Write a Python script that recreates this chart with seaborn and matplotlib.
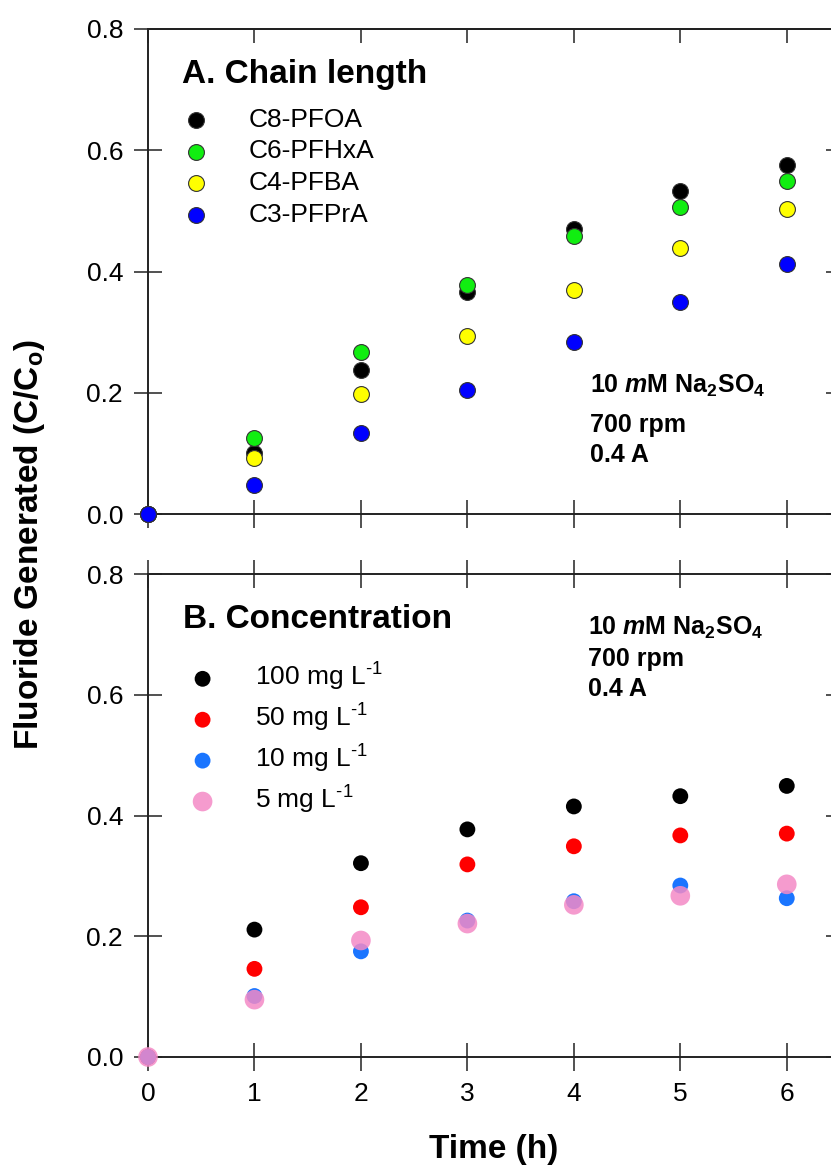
import pandas as pd
import seaborn as sns
import matplotlib.pyplot as plt

# time points (h)
time = [0, 1, 2, 3, 4, 5, 6]

# A. chain length
pfoa = [0, 0.100, 0.237, 0.367, 0.470, 0.532, 0.576]
pfhxa = [0, 0.125, 0.267, 0.378, 0.458, 0.507, 0.549]
pfba = [0, 0.093, 0.198, 0.293, 0.370, 0.439, 0.503]
pfpra = [0, 0.048, 0.133, 0.205, 0.283, 0.350, 0.412]
chain_labels = ["C8-PFOA", "C6-PFHxA", "C4-PFBA", "C3-PFPrA"]
chain_colors = ["#000000", "#11ee11", "#ffff00", "#0000ff"]

# B. concentration
c100 = [0, 0.211, 0.321, 0.377, 0.415, 0.432, 0.449]
c50 = [0, 0.146, 0.248, 0.319, 0.349, 0.367, 0.370]
c10 = [0, 0.101, 0.175, 0.226, 0.258, 0.284, 0.263]
c5 = [0, 0.095, 0.193, 0.221, 0.252, 0.267, 0.286]
conc_labels = ["100 mg L$^\\text{-1}$", "50 mg L$^\\text{-1}$",
               "10 mg L$^\\text{-1}$", "5 mg L$^\\text{-1}$"]
conc_colors = ["#000000", "#ff0000", "#1a75ff", "#f48ac6"]

sns.set_style("ticks")
plt.rcParams["font.family"] = ["Liberation Sans", "DejaVu Sans"]
plt.rcParams["text.color"] = "black"
plt.rcParams["axes.labelcolor"] = "black"
plt.rcParams["xtick.labelcolor"] = "black"
plt.rcParams["ytick.labelcolor"] = "black"
plt.rcParams["mathtext.fontset"] = "custom"
plt.rcParams["mathtext.rm"] = "Liberation Sans"
plt.rcParams["mathtext.bf"] = "Liberation Sans:bold"
plt.rcParams["mathtext.it"] = "Liberation Sans:italic"
plt.rcParams["mathtext.bfit"] = "Liberation Sans:bold:italic"

fig = plt.figure(figsize=(8.31, 11.73), dpi=100)
W, H = 831, 1173
L, R = 148, 840
ax1 = fig.add_axes([L / W, 1 - 514 / H, (R - L) / W, (514 - 29) / H])
ax2 = fig.add_axes([L / W, 1 - 1057 / H, (R - L) / W, (1057 - 574) / H])

for ys, lab, col in zip([pfoa, pfhxa, pfba, pfpra], chain_labels, chain_colors):
    sns.scatterplot(x=time, y=ys, ax=ax1, color=col, label=lab, s=130,
                    edgecolor="#333333", linewidth=0.8, zorder=3, clip_on=False)

for ys, lab, col in zip([c100, c50, c10, c5], conc_labels, conc_colors):
    big = lab.startswith("5 ")
    sns.scatterplot(x=time, y=ys, ax=ax2, color=col, label=lab,
                    s=200 if big else 130, alpha=0.85 if big else 1.0,
                    edgecolor="none", zorder=3, clip_on=False)

for ax in (ax1, ax2):
    ax.set_xlim(0, 6.5)
    ax.set_ylim(0, 0.8)
    ax.set_xticks(range(0, 7))
    ax.set_yticks([0, 0.2, 0.4, 0.6, 0.8])
    ax.set_yticklabels(["0.0", "0.2", "0.4", "0.6", "0.8"])
    for sp in ax.spines.values():
        sp.set_linewidth(1.4)
        sp.set_color("#222222")
    ax.tick_params(direction="inout", length=20, width=1.1, color="#222222",
                   labelsize=19, pad=8, top=True, right=True)
    ax.set_xlabel("")
    ax.set_ylabel("")

ax1.tick_params(axis="x", labelbottom=False, top=False)
sec = ax1.secondary_xaxis("top")
sec.set_xticks(range(0, 7))
sec.tick_params(direction="in", length=10, width=1.1, color="#222222", labeltop=False)
sec.spines["top"].set_linewidth(1.4)

ax2.set_xticklabels([str(t) for t in time])
ax2.set_xlabel("Time (h)", fontsize=24, fontweight="bold", color="black")
ax2.xaxis.set_label_coords(0.5, -0.16)

fig.text(30 / W, 1 - 545 / H, "Fluoride Generated (C/C$_\\mathbf{o}$)",
         rotation=90, ha="center", va="center", fontsize=24, fontweight="bold")

# panel titles
ax1.text(0.049, 0.889, "A. Chain length", transform=ax1.transAxes,
         fontsize=24, fontweight="bold", va="baseline")
ax2.text(0.050, 0.888, "B. Concentration", transform=ax2.transAxes,
         fontsize=24, fontweight="bold", va="baseline")

# condition notes
cond = ["10 $\\mathbfit{m}$M Na$_\\mathbf{2}$SO$_\\mathbf{4}$", "700 rpm", "0.4 A"]
for txt, y in zip(cond, [0.2495, 0.169, 0.107]):
    ax1.text(0.639, y, txt, transform=ax1.transAxes, fontsize=18,
             fontweight="bold", va="baseline")
for txt, y in zip(cond, [0.874, 0.810, 0.747]):
    ax2.text(0.636, y, txt, transform=ax2.transAxes, fontsize=18,
             fontweight="bold", va="baseline")

ax1.legend(loc="upper left", bbox_to_anchor=(0.046, 0.838), frameon=False,
           fontsize=19, handlelength=1.2, handletextpad=1.4, labelspacing=0.3,
           borderpad=0, borderaxespad=0, scatterpoints=1)
ax2.legend(loc="upper left", bbox_to_anchor=(0.056, 0.82), frameon=False,
           fontsize=19, handlelength=1.2, handletextpad=1.4, labelspacing=0.33,
           borderpad=0, borderaxespad=0, scatterpoints=1)

fig.savefig("out.png", dpi=100)
